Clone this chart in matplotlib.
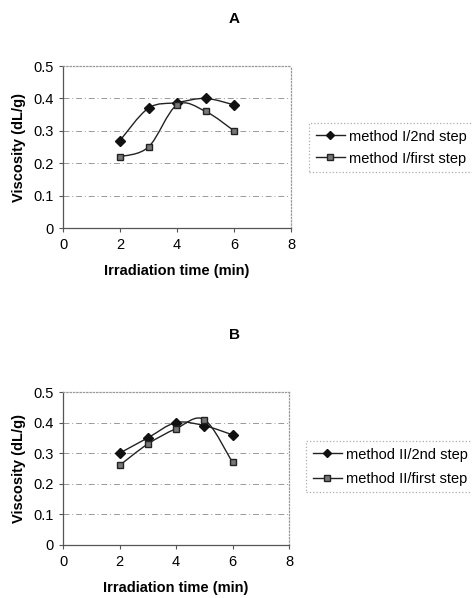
import numpy as np
import matplotlib
matplotlib.use("Agg")
import matplotlib.pyplot as plt
from matplotlib.path import Path
from matplotlib.patches import PathPatch
from matplotlib.lines import Line2D

plt.rcParams['font.family'] = ['Liberation Sans', 'DejaVu Sans']

times = [2, 3, 4, 5, 6]
a_2nd = [0.27, 0.37, 0.387, 0.40, 0.38]
a_first = [0.22, 0.25, 0.38, 0.36, 0.30]
b_2nd = [0.30, 0.35, 0.40, 0.39, 0.36]
b_first = [0.26, 0.33, 0.38, 0.41, 0.27]
labels_a = ['method I/2nd step', 'method I/first step']
labels_b = ['method II/2nd step', 'method II/first step']
xticks = [0, 2, 4, 6, 8]
yticks = [0, 0.1, 0.2, 0.3, 0.4, 0.5]
ytick_labels = ['0', '0.1', '0.2', '0.3', '0.4', '0.5']

W, H = 472, 598
fig = plt.figure(figsize=(W / 100, H / 100), dpi=100)


def smooth_path(x, y):
    x = np.asarray(x, float)
    y = np.asarray(y, float)
    pts = np.column_stack([x, y])
    n = len(pts)
    verts = [pts[0]]
    codes = [Path.MOVETO]
    for i in range(n - 1):
        p0 = pts[i - 1] if i > 0 else pts[i]
        p1 = pts[i]
        p2 = pts[i + 1]
        p3 = pts[i + 2] if i + 2 < n else pts[i + 1]
        c1 = p1 + (p2 - p0) / 6.0
        c2 = p2 - (p3 - p1) / 6.0
        verts += [c1, c2, p2]
        codes += [Path.CURVE4] * 3
    return Path(verts, codes)


def panel(rect, title, title_y, s1, s2, labels, leg_xy, leg_spacing):
    ax = fig.add_axes(rect)
    ax.set_xlim(0, 8)
    ax.set_ylim(0, 0.5)
    ax.set_xticks(xticks)
    ax.set_yticks(yticks)
    ax.set_yticklabels(ytick_labels)
    ax.tick_params(labelsize=10.5, length=3, width=0.8, color='#555555', pad=4)
    for yv in yticks[1:-1]:
        ax.axhline(yv, color='#999999', lw=0.7, ls=(0, (6, 3, 1, 3)), zorder=0)
    for side in ['top', 'right']:
        ax.spines[side].set_color('#999999')
        ax.spines[side].set_linestyle(':')
        ax.spines[side].set_linewidth(0.9)
    for side in ['left', 'bottom']:
        ax.spines[side].set_color('#555555')
        ax.spines[side].set_linewidth(0.9)
    for ys in (s1, s2):
        ax.add_patch(PathPatch(smooth_path(times, ys), fill=False, lw=1.0,
                               edgecolor='#222222', zorder=2))
    ax.plot(times, s1, ls='None', marker='D', ms=4.6,
            mfc='#111111', mec='#111111', zorder=3)
    ax.plot(times, s2, ls='None', marker='s', ms=4.6,
            mfc='#777777', mec='#222222', mew=1.0, zorder=3)
    ax.set_xlabel('Irradiation time (min)', fontsize=10.5, fontweight='bold', labelpad=9)
    ax.set_ylabel('Viscosity (dL/g)', fontsize=10.5, fontweight='bold', labelpad=5)
    fig.text(234 / W, 1 - title_y / H, title, ha='center', va='center',
             fontsize=11, fontweight='bold')
    lh1 = Line2D([], [], color='#222222', lw=1.0, marker='D', ms=4.3,
                 mfc='#111111', mec='#111111')
    lh2 = Line2D([], [], color='#222222', lw=1.0, marker='s', ms=4.3,
                 mfc='#777777', mec='#222222')
    leg = ax.legend([lh1, lh2], labels, loc='upper left',
                    bbox_to_anchor=(leg_xy[0] / W, 1 - leg_xy[1] / H),
                    bbox_transform=fig.transFigure, fontsize=10.5,
                    frameon=True, fancybox=False, handlelength=2.0,
                    handletextpad=0.3, borderpad=0.45, labelspacing=leg_spacing,
                    borderaxespad=0)
    fr = leg.get_frame()
    fr.set_edgecolor('#999999')
    fr.set_linestyle(':')
    fr.set_linewidth(0.9)
    return ax


panel([63 / W, 1 - 228 / H, 228 / W, 162 / H], 'A', 19, a_2nd, a_first,
      labels_a, (309, 123), 0.55)
panel([63 / W, 1 - 545 / H, 226 / W, 153 / H], 'B', 335, b_2nd, b_first,
      labels_b, (306, 441), 0.7)

fig.savefig('out.png', dpi=100)
